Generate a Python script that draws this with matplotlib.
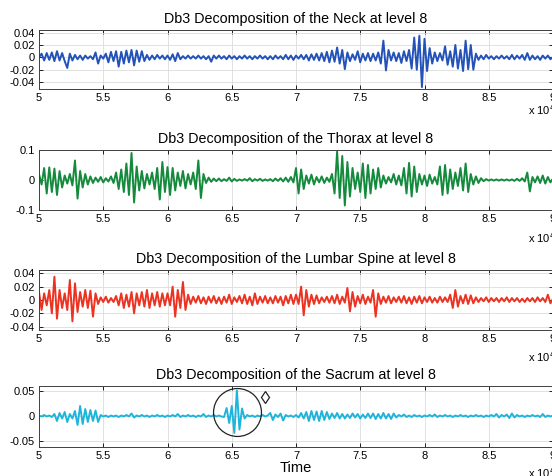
import numpy as np
import matplotlib
matplotlib.use('Agg')
import matplotlib.pyplot as plt

plt.rcParams['font.family'] = ['Liberation Sans', 'DejaVu Sans']
plt.rcParams['axes.unicode_minus'] = False

# detail coefficients, in units of 1e-3, sampled every 0.02 (x 10^4) from 5 to 9
neck = [0, 6, -5, 7, -4, 8, -6, 10, -5, 7,
        -6, -17, 6, -5, 4, -3, 3, -4, 3, -2,
        2, -3, 8, -10, 3, -2, 6, -8, 9, -6,
        10, -15, 9, -10, 11, -8, 12, -13, 11, -7,
        10, -6, 4, -4, 3, -3, 4, -2, 3, -3,
        3, -4, 5, -6, 7, -3, 2, -2, 3, -2,
        2, -2, 3, -2, 2, -3, 2, -7, 3, -2,
        3, -2, 2, -3, 3, -2, 2, -3, 2, -2,
        3, -2, 2, -3, 2, -2, 3, -2, 2, -3,
        2, -3, 3, -2, 2, -3, 4, -3, 3, -4,
        3, -2, 4, -3, 4, -5, 5, -4, 6, -5,
        7, -6, 9, -8, 11, -7, 16, -10, 12, -19,
        8, -6, 5, -4, 10, -8, 6, -5, 7, -6,
        6, -5, 8, -10, 27, -21, 12, -5, 8, -6,
        7, -9, 10, -6, 12, -18, 32, -20, 35, -48,
        30, -22, 15, -10, 8, -6, 7, -5, 18, -12,
        10, -15, 20, -18, 12, -22, 27, -19, 20, -20,
        6, -4, 3, -3, 4, -2, 2, -3, 2, -2,
        3, -2, 2, -3, 4, -3, 3, -2, 4, -4,
        7, -4, 3, -3, 2, -4, 3, -2, 3, -3,
        1]

thorax = [20, -15, 40, -45, 42, -40, 38, -50, 30, -25,
          15, -12, 20, -18, 65, -62, 30, -25, 20, -15,
          12, -10, 8, -6, 10, -8, 6, -5, 12, -10,
          25, -30, 35, -40, 55, -50, 90, -75, 45, -35,
          30, -28, 20, -15, 25, -30, 40, -65, 60, -40,
          43, -50, 40, -35, 25, -20, 30, -28, 20, -15,
          25, -30, 65, -60, 20, -10, 8, -6, 5, -4,
          5, -4, 3, -3, 8, -5, 4, -3, 2, -2,
          3, -2, 6, -4, 3, -2, 4, -3, 2, -2,
          3, -4, 5, -3, 6, -5, 8, -6, 10, -8,
          40, -45, 35, -30, 15, -12, 18, -15, 10, -8,
          12, -10, 8, -6, 20, -45, 95, -60, 80, -85,
          60, -55, 40, -30, 25, -40, 55, -60, 50, -45,
          35, -30, 40, -25, 15, -12, 10, -8, 20, -15,
          15, -18, 40, -45, 57, -55, 45, -40, 20, -15,
          15, -20, 18, -12, 10, -15, 45, -50, 50, -45,
          35, -30, 25, -20, 40, -35, 55, -40, 20, -15,
          12, -10, 6, -4, 3, -2, 2, -2, 2, -2,
          2, -2, 2, -2, 2, -3, 4, -3, 6, -5,
          25, -38, 10, -8, 12, -10, 15, -12, 10, -8,
          5]

lumbar = [12, -15, 10, -8, 15, -20, 35, -28, 15, -12,
          10, -15, 30, -32, 25, -18, 12, -10, 15, -12,
          14, -25, 10, -6, 4, -3, 5, -4, 3, -3,
          6, -8, 10, -12, 8, -10, 12, -20, 10, -8,
          12, -10, 15, -12, 10, -8, 12, -10, 10, -8,
          10, -8, 20, -25, 15, -12, 27, -15, 8, -6,
          5, -4, 6, -5, 4, -6, 5, -4, 6, -5,
          4, -6, 5, -4, 8, -6, 4, -3, 6, -5,
          8, -6, 5, -8, 10, -6, 5, -4, 6, -5,
          4, -5, 6, -4, 5, -8, 6, -5, 8, -6,
          8, -6, 20, -23, 15, -10, 8, -6, 7, -5,
          4, -3, 5, -4, 6, -5, 8, -6, 5, -4,
          18, -17, 12, -10, 6, -5, 8, -6, 5, -4,
          15, -25, 10, -6, 5, -4, 6, -5, 4, -3,
          5, -4, 6, -5, 4, -6, 5, -4, 6, -5,
          4, -3, 5, -4, 3, -4, 5, -3, 4, -3,
          8, -12, 15, -10, 6, -5, 8, -6, 7, -5,
          4, -3, 3, -2, 4, -3, 3, -2, 3, -3,
          3, -2, 4, -3, 3, -2, 3, -3, 2, -3,
          3, -2, 3, -3, 4, -2, 3, -3, 8, -5,
          2]

sacrum = [1, -1, 2, -1, 1, -2, 4, -10, 6, -5,
          8, -12, 4, -5, 10, -18, 20, -16, 14, -12,
          12, -10, 11, -12, 2, -1, 1, -2, 1, -1,
          1, -2, 1, -1, 2, -1, 5, -3, 1, -1,
          2, -1, 1, -2, 1, -1, 2, -1, 1, -2,
          1, -1, 2, -1, 4, -2, 1, -1, 2, -1,
          1, -2, 1, -1, 4, -2, 1, -1, 2, -1,
          1, -1, -2, 16, -14, 20, -34, 51, -27, 15,
          -5, 2, -1, 1, -2, 1, -1, 2, -1, 1,
          6, -8, 3, -2, 5, -9, 2, -1, 1, -2,
          2, -3, 6, -5, 8, -10, 10, -8, 9, -10,
          10, -8, 8, -6, 5, -4, 6, -5, 4, -5,
          3, -4, 5, -3, 4, -5, 3, -4, 5, -4,
          5, -6, 4, -5, 6, -5, 4, -6, 5, -3,
          2, -1, 3, -2, 1, -2, 2, -1, 1, -2,
          1, -1, 2, -1, 3, -2, 1, -1, 2, -1,
          1, -2, 1, -1, 2, -1, 1, -2, 1, -1,
          2, -1, 1, -2, 1, -1, 2, -1, 4, -3,
          2, -1, 3, -4, 5, -3, 2, -1, 1, -2,
          1, -1, 2, -1, 1, -2, 4, -2, 1, -1,
          1]

titles = ['Db3 Decomposition of the Neck at level 8',
          'Db3 Decomposition of the Thorax at level 8',
          'Db3 Decomposition of the Lumbar Spine at level 8',
          'Db3 Decomposition of the Sacrum at level 8']
colors = ['#2352b8', '#138a3c', '#ec3322', '#1db5dc']
ylims = [(-0.051, 0.045), (-0.1, 0.1), (-0.045, 0.045), (-0.062, 0.06)]
yticks = [[-0.04, -0.02, 0, 0.02, 0.04], [-0.1, 0, 0.1],
          [-0.04, -0.02, 0, 0.02, 0.04], [-0.05, 0, 0.05]]
xticks = [5, 5.5, 6, 6.5, 7, 7.5, 8, 8.5, 9]

# annotation marks in the sacrum panel
circle_xy = (6.54, 0.008)
diamond_xy = (6.76, 0.038)

fig = plt.figure(figsize=(5.52, 4.76), dpi=100)
# axes pixel rows (top, bottom) in the 476 px tall figure
rows = [(29.5, 89), (150, 210), (270, 330), (386, 447)]
offset_y = [110, 238, 357, 473]

for i, series in enumerate([neck, thorax, lumbar, sacrum]):
    top, bot = rows[i]
    ax = fig.add_axes([39 / 552, 1 - bot / 476, 514 / 552, (bot - top) / 476])
    y = np.array(series) * 1e-3
    t = np.linspace(5, 9, len(y))
    ax.plot(t, y, color=colors[i], lw=1.4)
    ax.set_xlim(5, 9)
    ax.set_ylim(*ylims[i])
    ax.set_xticks(xticks)
    ax.set_xticklabels(['%g' % v for v in xticks])
    ax.set_yticks(yticks[i])
    ax.set_yticklabels(['%g' % v for v in yticks[i]])
    ax.grid(True, color='#dcdcdc', lw=0.6)
    ax.tick_params(direction='in', top=True, right=True, length=3, width=0.6,
                   labelsize=8, pad=3)
    for s in ax.spines.values():
        s.set_color('#404040')
        s.set_linewidth(0.7)
    ax.set_title(titles[i], fontsize=10.3, pad=5)
    fig.text(528 / 552, 1 - offset_y[i] / 476, 'x 10$^4$', fontsize=8,
             va='center', ha='left')
    if i == 3:
        ax.set_xlabel('Time', fontsize=10.5, labelpad=0)
        ax.plot([circle_xy[0]], [circle_xy[1]], 'o', ms=34.5, mfc='none',
                mec='#222222', mew=0.9)
        ax.plot([diamond_xy[0]], [diamond_xy[1]], 'd', ms=6.5, mfc='none',
                mec='#222222', mew=0.9)

fig.savefig('out.png', dpi=100)
